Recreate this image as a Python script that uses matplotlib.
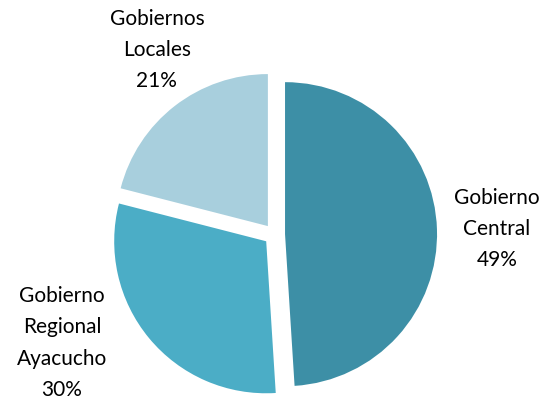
import matplotlib
matplotlib.use("Agg")
import matplotlib.pyplot as plt

# data
labels = ["Gobierno\nCentral", "Gobierno\nRegional\nAyacucho", "Gobiernos\nLocales"]
values = [49, 30, 21]
colors = ["#3D8FA6", "#4BADC6", "#A8CFDD"]

# label positions (in pie radius units)
label_pos = [(1.464, 0.036), (-1.397, -0.714), (-0.773, 1.214)]

plt.rcParams['font.family'] = ['Lato', 'DejaVu Sans']

fig = plt.figure(figsize=(5.53, 4.0), dpi=100)
ax = fig.add_axes([0, 0, 1, 1])

ax.pie(values, colors=colors, startangle=90, counterclock=False,
       explode=[0.07, 0.07, 0.07], radius=1.0,
       wedgeprops=dict(linewidth=0))

for lab, v, (x, y) in zip(labels, values, label_pos):
    ax.text(x, y, f"{lab}\n{v}%", ha="center", va="center", fontsize=15,
            color="black", linespacing=1.7)

# pie radius ~152 px, centre at (274, 234) px
ax.set_xlim(-274.4 / 152, (553 - 274.4) / 152)
ax.set_ylim(-(400 - 234.5) / 152, 234.5 / 152)
ax.set_aspect("equal")
ax.axis("off")

fig.savefig("out.png", dpi=100)
